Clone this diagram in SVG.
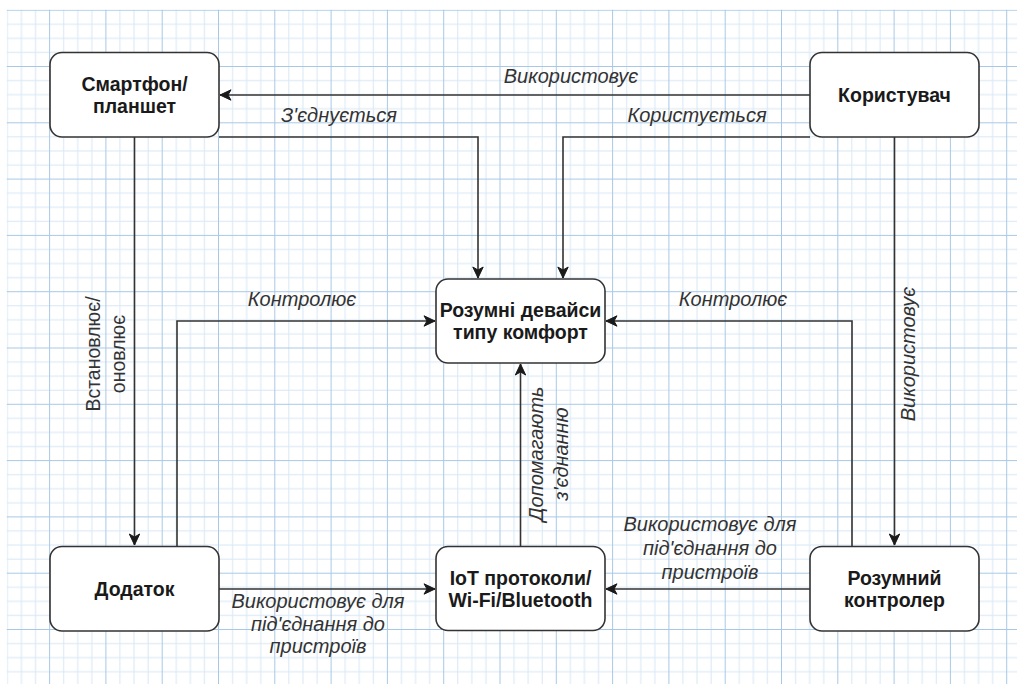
<svg xmlns="http://www.w3.org/2000/svg" width="1017" height="684" viewBox="0 0 1017 684">
<style>
.node{fill:#ffffff;stroke:#333333;stroke-width:1.6}
.nl{font-family:"Liberation Sans",Arial,sans-serif;font-weight:bold;font-size:19.5px;fill:#1a1a1a;text-anchor:middle;dominant-baseline:central}
.el{font-family:"Liberation Sans",Arial,sans-serif;font-style:italic;font-size:20px;fill:#333333;text-anchor:middle;dominant-baseline:central}
.er{font-family:"Liberation Sans",Arial,sans-serif;font-size:19.5px;fill:#333333;text-anchor:middle;dominant-baseline:central}
.edge{fill:none;stroke:#333333;stroke-width:1.6}
</style>
<defs>
<pattern id="grid" patternUnits="userSpaceOnUse" x="-7.2" y="9.7" width="56.3" height="56.3">
<rect x="14.075" y="0" width="1" height="56.3" fill="#d8e7f5"/>
<rect x="28.15" y="0" width="1" height="56.3" fill="#d8e7f5"/>
<rect x="42.225" y="0" width="1" height="56.3" fill="#d8e7f5"/>
<rect x="0" y="14.075" width="56.3" height="1" fill="#d8e7f5"/>
<rect x="0" y="28.15" width="56.3" height="1" fill="#d8e7f5"/>
<rect x="0" y="42.225" width="56.3" height="1" fill="#d8e7f5"/>
<rect x="0" y="0" width="1" height="56.3" fill="#a9c8e6"/>
<rect x="0" y="0" width="56.3" height="1" fill="#a9c8e6"/>
</pattern>
<marker id="arr" markerUnits="userSpaceOnUse" markerWidth="14" markerHeight="14" viewBox="-12 -7 14 14" refX="0" refY="0" orient="auto">
<path d="M0,0 L-11,-5.2 L-8,0 L-11,5.2 Z" fill="#1a1a1a" stroke="#1a1a1a" stroke-width="1"/>
</marker>
</defs>
<rect x="0" y="0" width="1017" height="684" fill="#ffffff"/>
<rect x="6.8" y="9.7" width="1010.2" height="674.3" fill="url(#grid)"/>

<g id="connectors">
<path class="edge" d="M810,95 H220" marker-end="url(#arr)"/>
<path class="edge" d="M219,137 H478 V278" marker-end="url(#arr)"/>
<path class="edge" d="M810,137 H563 V278" marker-end="url(#arr)"/>
<path class="edge" d="M134.5,137 V545" marker-end="url(#arr)"/>
<path class="edge" d="M177,546 V321 H435" marker-end="url(#arr)"/>
<path class="edge" d="M852,546 V321 H606" marker-end="url(#arr)"/>
<path class="edge" d="M894.5,137 V545" marker-end="url(#arr)"/>
<path class="edge" d="M520.5,546 V364" marker-end="url(#arr)"/>
<path class="edge" d="M219,589 H435" marker-end="url(#arr)"/>
<path class="edge" d="M810,589 H606" marker-end="url(#arr)"/>

<text class="el" x="571" y="76">Використовує</text>
<text class="el" x="339" y="115">З'єднується</text>
<text class="el" x="697" y="115">Користується</text>
<text class="el" x="302" y="299">Контролює</text>
<text class="el" x="733" y="299">Контролює</text>
<text class="el" x="318" y="601">Використовує для</text>
<text class="el" x="318" y="623.5">під'єднання до</text>
<text class="el" x="318" y="646">пристроїв</text>
<text class="el" x="710" y="524">Використовує для</text>
<text class="el" x="710" y="548">під'єднання до</text>
<text class="el" x="710" y="572">пристроїв</text>
<g transform="translate(908,354) rotate(-90)"><text class="el" x="0" y="0">Використовує</text></g>
<g transform="translate(536,454) rotate(-90)"><text class="el" x="0" y="0">Допомагають</text><text class="el" x="0" y="25">з'єднанню</text></g>
<g transform="translate(93,354) rotate(-90)"><text class="er" x="0" y="0">Встановлює/</text><text class="er" x="0" y="25">оновлює</text></g>
</g>

<g id="n-smartphone">
<rect class="node" x="50" y="52.5" width="169" height="84.5" rx="12" ry="12"/>
<text class="nl" x="134.5" y="84">Смартфон/</text>
<text class="nl" x="134.5" y="106">планшет</text>
</g>
<g id="n-user">
<rect class="node" x="810" y="52.5" width="169" height="84.5" rx="12" ry="12"/>
<text class="nl" x="894.5" y="95">Користувач</text>
</g>
<g id="n-devices">
<rect class="node" x="436" y="279" width="169" height="84" rx="12" ry="12"/>
<text class="nl" x="520.5" y="310">Розумні девайси</text>
<text class="nl" x="520.5" y="332">типу комфорт</text>
</g>
<g id="n-app">
<rect class="node" x="50" y="546.5" width="169" height="84.5" rx="12" ry="12"/>
<text class="nl" x="134.5" y="589">Додаток</text>
</g>
<g id="n-iot">
<rect class="node" x="436" y="546.5" width="169" height="84" rx="12" ry="12"/>
<text class="nl" x="520.5" y="578">IoT протоколи/</text>
<text class="nl" x="520.5" y="600">Wi-Fi/Bluetooth</text>
</g>
<g id="n-controller">
<rect class="node" x="810" y="546.5" width="169" height="84.5" rx="12" ry="12"/>
<text class="nl" x="894.5" y="578">Розумний</text>
<text class="nl" x="894.5" y="600">контролер</text>
</g>
</svg>
